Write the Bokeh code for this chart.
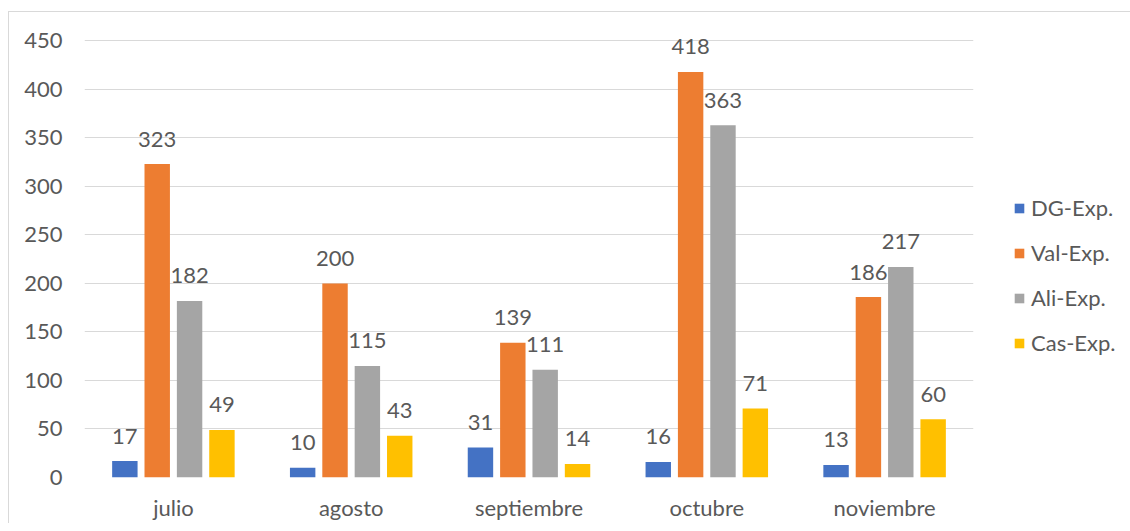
from bokeh.plotting import figure
from bokeh.models import ColumnDataSource, FactorRange, Range1d, FixedTicker, LabelSet, Legend, LegendItem
from bokeh.core.properties import value
from bokeh.transform import dodge
from bokeh.embed import file_html
from bokeh.resources import INLINE

months = ["julio", "agosto", "septiembre", "octubre", "noviembre"]
series_names = ["DG-Exp.", "Val-Exp.", "Ali-Exp.", "Cas-Exp."]
dg = [17, 10, 31, 16, 13]
val = [323, 200, 139, 418, 186]
ali = [182, 115, 111, 363, 217]
cas = [49, 43, 14, 71, 60]
y_ticks = [0, 50, 100, 150, 200, 250, 300, 350, 400, 450]

colors = ["#4472C4", "#ED7D31", "#A5A5A5", "#FFC000"]
keys = ["dg", "val", "ali", "cas"]
offsets = [-0.273, -0.091, 0.091, 0.273]
bar_w = 0.143

FONT = "Lato"
TXT = "#595959"
FS = "22px"

source = ColumnDataSource(data=dict(month=months, dg=dg, val=val, ali=ali, cas=cas,
                                    dg_t=[str(v) for v in dg], val_t=[str(v) for v in val],
                                    ali_t=[str(v) for v in ali], cas_t=[str(v) for v in cas]))

p = figure(x_range=FactorRange(*months), y_range=Range1d(0, 470),
           frame_width=889, frame_height=456,
           output_backend="svg", toolbar_location=None,
           min_border_left=75, min_border_top=9, min_border_bottom=5, min_border_right=0)

p.styles = {"border-top": "1px solid #d9d9d9", "border-left": "1px solid #d9d9d9",
            "margin-top": "11px", "margin-left": "8px"}

items = []
for k, c, off, name in zip(keys, colors, offsets, series_names):
    r = p.vbar(x=dodge("month", off, range=p.x_range), top=k, width=bar_w, source=source,
               fill_color=c, line_color=None)
    items.append(LegendItem(label=name, renderers=[r]))
    labels = LabelSet(x=dodge("month", off, range=p.x_range), y=k, text=k + "_t", source=source,
                      text_align="center", text_baseline="middle", y_offset=25,
                      text_font=value(FONT), text_font_size=value(FS), text_color=TXT)
    p.add_layout(labels)

legend = Legend(items=items, location=(28, 109), border_line_alpha=0, background_fill_alpha=0,
                label_text_font=FONT, label_text_font_size=FS, label_text_color=TXT,
                glyph_width=12, glyph_height=12, label_height=20, spacing=18,
                label_standoff=6, padding=12, margin=30)
p.add_layout(legend, "right")

p.yaxis.ticker = FixedTicker(ticks=y_ticks)
p.ygrid.ticker = FixedTicker(ticks=y_ticks)
p.ygrid.grid_line_color = "#d9d9d9"
p.ygrid.grid_line_width = 1
p.xgrid.grid_line_color = None

for ax in (p.xaxis[0], p.yaxis[0]):
    ax.axis_line_color = None
    ax.major_tick_line_color = None
    ax.minor_tick_line_color = None
    ax.major_label_text_font = FONT
    ax.major_label_text_font_size = FS
    ax.major_label_text_color = TXT
p.yaxis.major_label_standoff = 16
p.xaxis.major_label_standoff = 10
p.x_range.range_padding = 0
p.x_range.factor_padding = 0
p.outline_line_color = None

open("out.html", "w").write(file_html(p, INLINE))
